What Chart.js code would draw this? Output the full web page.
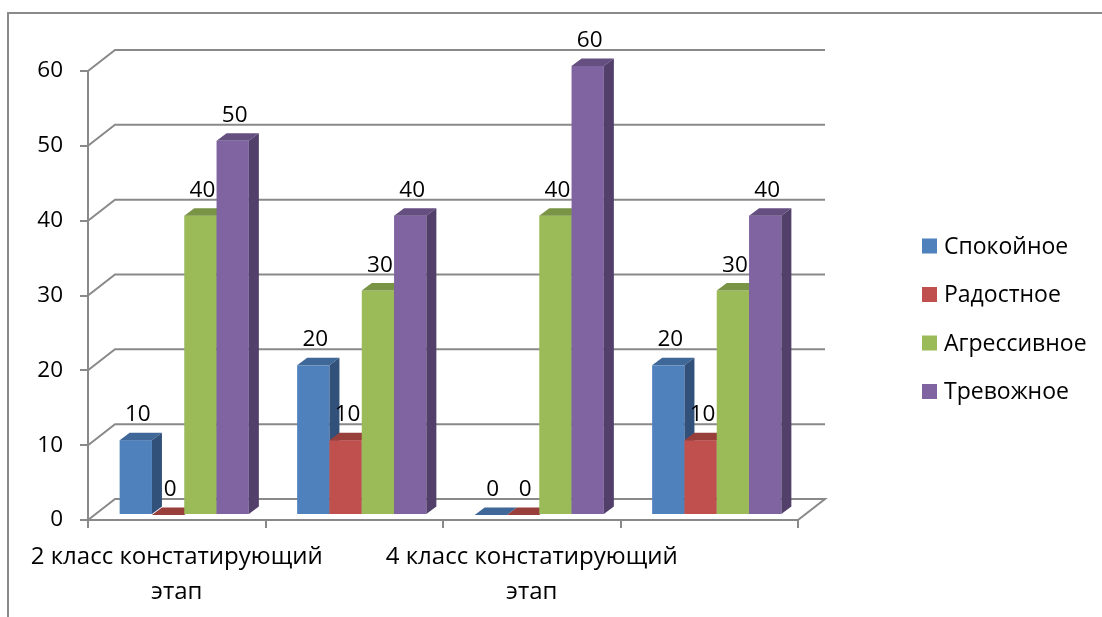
<!DOCTYPE html>
<html>
<head>
<meta charset="utf-8">
<script src="https://cdn.jsdelivr.net/npm/chart.js@4.4.1/dist/chart.umd.min.js"></script>
<style>
  html, body { margin: 0; padding: 0; background: #ffffff; }
  #wrap { width: 1102px; height: 617px; }
</style>
</head>
<body>
<div id="wrap"><canvas id="chart" width="1102" height="617"></canvas></div>
<script>
// Categories (only every other group carries a visible caption)
const categories = [["2 класс констатирующий", "этап"], "", ["4 класс констатирующий", "этап"], ""];
const seriesNames = ["Спокойное", "Радостное", "Агрессивное", "Тревожное"];
const spokoynoe   = [10, 20, 0, 20];
const radostnoe   = [0, 10, 0, 10];
const agressivnoe = [40, 30, 40, 30];
const trevozhnoe  = [50, 40, 60, 40];
const yTicks = [0, 10, 20, 30, 40, 50, 60];

// Face colours per series: front, top, side
const faceColors = [
  { front: "#4f81bd", top: "#3f6797", side: "#31507a" },
  { front: "#c0504d", top: "#983f3c", side: "#7f3532" },
  { front: "#9bbb59", top: "#7a9446", side: "#627837" },
  { front: "#8064a2", top: "#654f80", side: "#523f6a" }
];
const GRID = "#898989";
const FONT = "'Open Sans', sans-serif";
const WALL = { dx: 27, dy: -21 };                 // depth of the back wall
const BAR = { dx: 10, dy: -7.5, sx: 7.5, sy: -5 }; // bar depth and placement inside the box

const seriesValues = [spokoynoe, radostnoe, agressivnoe, trevozhnoe];

const box3d = {
  id: "box3d",
  beforeDraw(chart) {
    const ctx = chart.ctx;
    ctx.save();
    ctx.strokeStyle = "#8a8a8a";
    ctx.lineWidth = 2;
    ctx.beginPath();
    ctx.moveTo(8, 617);
    ctx.lineTo(8, 13);
    ctx.lineTo(1102, 13);
    ctx.stroke();
    ctx.restore();
  },
  beforeDatasetsDraw(chart) {
    const ctx = chart.ctx;
    const { left, right, bottom } = chart.chartArea;
    const ys = chart.scales.y;
    ctx.save();
    // back wall gridlines with their connectors to the front axis
    ctx.strokeStyle = GRID;
    ctx.lineWidth = 2;
    ctx.lineJoin = "miter";
    ys.ticks.forEach(t => {
      const py = ys.getPixelForValue(t.value);
      ctx.beginPath();
      ctx.moveTo(left, py);
      ctx.lineTo(left + WALL.dx, py + WALL.dy);
      ctx.lineTo(right + WALL.dx, py + WALL.dy);
      if (t.value === 0) ctx.lineTo(right, bottom);
      ctx.stroke();
    });

    // bars, group by group, left to right
    const n = chart.data.labels.length;
    const labels = [];
    for (let i = 0; i < n; i++) {
      chart.data.datasets.forEach((ds, d) => {
        const el = chart.getDatasetMeta(d).data[i];
        const c = faceColors[d];
        const x0 = el.x - el.width / 2 + BAR.sx;
        const x1 = el.x + el.width / 2 + BAR.sx;
        const yt = el.y + BAR.sy;
        const yb = el.base + BAR.sy;
        ctx.fillStyle = c.front;
        ctx.fillRect(x0, yt, x1 - x0, yb - yt);
        ctx.fillStyle = c.top;
        ctx.beginPath();
        ctx.moveTo(x0, yt);
        ctx.lineTo(x0 + BAR.dx, yt + BAR.dy);
        ctx.lineTo(x1 + BAR.dx, yt + BAR.dy);
        ctx.lineTo(x1, yt);
        ctx.closePath();
        ctx.fill();
        ctx.fillStyle = c.side;
        ctx.beginPath();
        ctx.moveTo(x1, yt);
        ctx.lineTo(x1 + BAR.dx, yt + BAR.dy);
        ctx.lineTo(x1 + BAR.dx, yb + BAR.dy);
        ctx.lineTo(x1, yb);
        ctx.closePath();
        ctx.fill();
        labels.push({ x: (x0 + x1) / 2 + 2, y: yt - 19, text: String(ds.data[i]) });
      });
    }
    // value labels
    ctx.fillStyle = "#000000";
    ctx.font = "22.5px " + FONT;
    ctx.textAlign = "center";
    ctx.textBaseline = "alphabetic";
    labels.forEach(l => ctx.fillText(l.text, l.x, l.y));
    ctx.restore();
    return false;
  },
  afterDraw(chart) {
    const ctx = chart.ctx;
    ctx.save();
    ctx.font = "23px " + FONT;
    ctx.textAlign = "left";
    ctx.textBaseline = "middle";
    chart.data.datasets.forEach((ds, d) => {
      const cy = 246 + d * 48.5;
      ctx.fillStyle = faceColors[d].front;
      ctx.fillRect(922, cy - 7.5, 15, 15);
      ctx.fillStyle = "#000000";
      ctx.fillText(ds.label, 944, cy + 1);
    });
    ctx.restore();
  }
};

new Chart(document.getElementById("chart"), {
  type: "bar",
  data: {
    labels: categories,
    datasets: seriesNames.map((name, d) => ({
      label: name,
      data: seriesValues[d],
      backgroundColor: faceColors[d].front,
      barPercentage: 1,
      categoryPercentage: 0.728
    }))
  },
  options: {
    responsive: false,
    animation: false,
    devicePixelRatio: 1,
    layout: { autoPadding: false, padding: { top: 71, right: 304, left: 0, bottom: 0 } },
    plugins: { legend: { display: false }, tooltip: { enabled: false } },
    scales: {
      x: {
        afterFit: s => { s.height = 97; },
        grid: { display: true, drawOnChartArea: false, offset: true, tickLength: 8, color: GRID, lineWidth: 2 },
        border: { display: true, color: GRID, width: 2 },
        ticks: {
          autoSkip: false, maxRotation: 0, minRotation: 0, padding: 12,
          color: "#000000", font: { family: FONT, size: 24, lineHeight: 1.45 }
        }
      },
      y: {
        min: 0, max: 60,
        afterFit: s => { s.width = 88; },
        afterBuildTicks: s => { s.ticks = yTicks.map(v => ({ value: v })); },
        grid: { display: true, drawOnChartArea: false, tickLength: 8, color: GRID, lineWidth: 2 },
        border: { display: true, color: GRID, width: 2 },
        ticks: { padding: 17, color: "#000000", font: { family: FONT, size: 22.5 } }
      }
    }
  },
  plugins: [box3d]
});
</script>
</body>
</html>
